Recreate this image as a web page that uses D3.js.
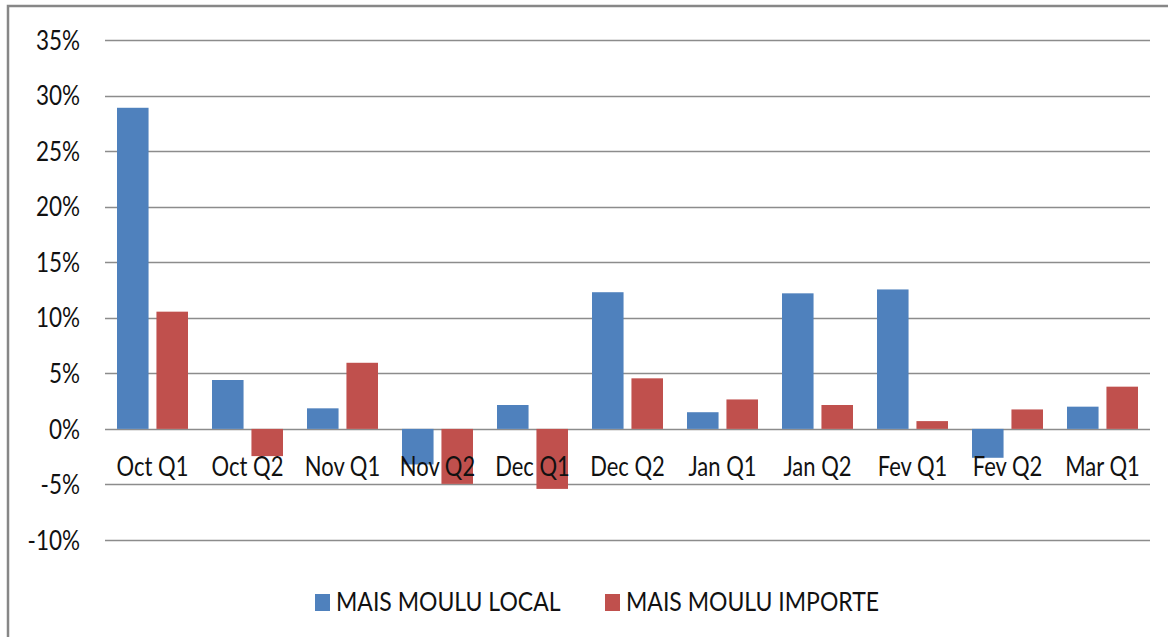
<!DOCTYPE html>
<html>
<head>
<meta charset="utf-8">
<script src="https://cdn.jsdelivr.net/npm/d3@7"></script>
<style>
  body { margin: 0; background: #fff; }
  svg { display: block; }
  text { font-family: Lato, "Open Sans", sans-serif; fill: #111; }
</style>
</head>
<body>
<div id="chart"></div>
<script>
// periods on the x axis
const periods = ["Oct Q1", "Oct Q2", "Nov Q1", "Nov Q2", "Dec Q1", "Dec Q2",
  "Jan Q1", "Jan Q2", "Fev Q1", "Fev Q2", "Mar Q1"];
// series values, in percent
const maisLocal = [28.9, 4.4, 1.85, -3.2, 2.15, 12.3, 1.5, 12.2, 12.55, -2.6, 2.0];
const maisImporte = [10.55, -2.45, 5.95, -4.95, -5.4, 4.55, 2.65, 2.15, 0.7, 1.75, 3.8];
const seriesNames = ["MAIS MOULU LOCAL", "MAIS MOULU IMPORTE"];
const yTicks = [-10, -5, 0, 5, 10, 15, 20, 25, 30, 35];

const W = 1168, H = 637;
const colors = ["#4f81bd", "#c0504d"];
const stretch = 1.2; // text in the picture is a bit taller than wide

const svg = d3.select("#chart").append("svg")
  .attr("width", W).attr("height", H);

// outer frame, cut off on the right and bottom
svg.append("rect")
  .attr("x", 8).attr("y", 6)
  .attr("width", W + 20).attr("height", H + 20)
  .attr("fill", "none").attr("stroke", "#878787").attr("stroke-width", 2.5);

const plot = { left: 105, right: 1150, top: 40, bottom: 540 };

const y = d3.scaleLinear().domain([-10, 35]).range([plot.bottom, plot.top]);
const x0 = d3.scaleBand().domain(periods).range([plot.left, plot.right]).paddingInner(0).paddingOuter(0);
const x1 = d3.scaleBand().domain([0, 1]).range([12, x0.bandwidth() - 12]).paddingInner(0.2);

// gridlines
svg.append("g")
  .selectAll("line")
  .data(yTicks)
  .join("line")
  .attr("x1", plot.left).attr("x2", plot.right)
  .attr("y1", d => Math.round(y(d)) + 0.5).attr("y2", d => Math.round(y(d)) + 0.5)
  .attr("stroke", "#8c8c8c").attr("stroke-width", 1.6);

// y axis labels
const yAxis = svg.append("g")
  .attr("transform", `translate(${plot.left},0)`)
  .call(d3.axisLeft(y).tickValues(yTicks).tickSize(0).tickPadding(25).tickFormat(d => d + "%"));
yAxis.select(".domain").remove();
yAxis.selectAll("text")
  .attr("font-size", 22.5)
  .attr("dy", "0.34em")
  .attr("transform", `scale(1,${stretch})`);

// bars
const rows = periods.map((p, i) => ({ p, v: [maisLocal[i], maisImporte[i]] }));
const groups = svg.append("g").selectAll("g")
  .data(rows)
  .join("g")
  .attr("transform", d => `translate(${x0(d.p)},0)`);

groups.selectAll("rect")
  .data(d => d.v.map((v, k) => ({ v, k })))
  .join("rect")
  .attr("x", d => x1(d.k))
  .attr("width", x1.bandwidth())
  .attr("y", d => y(Math.max(0, d.v)))
  .attr("height", d => Math.abs(y(d.v) - y(0)))
  .attr("fill", d => colors[d.k]);

// x axis labels sit on top of the bars
const xAxis = svg.append("g")
  .attr("transform", `translate(0,${y(0)})`)
  .call(d3.axisBottom(x0).tickSize(0));
xAxis.select(".domain").remove();
xAxis.selectAll("text")
  .attr("font-size", 22)
  .attr("y", 47.5 / stretch)
  .attr("dy", 0)
  .attr("transform", `scale(1,${stretch})`);

// legend
const legendX = [315, 605];
const legend = svg.append("g").selectAll("g")
  .data(seriesNames)
  .join("g")
  .attr("transform", (d, i) => `translate(${legendX[i]},0)`);
legend.append("rect")
  .attr("x", 0).attr("y", 594)
  .attr("width", 15).attr("height", 17)
  .attr("fill", (d, i) => colors[i]);
legend.append("text")
  .attr("x", 21)
  .attr("y", 611.5 / stretch)
  .attr("font-size", 23)
  .attr("transform", `scale(1,${stretch})`)
  .text(d => d);
</script>
</body>
</html>
